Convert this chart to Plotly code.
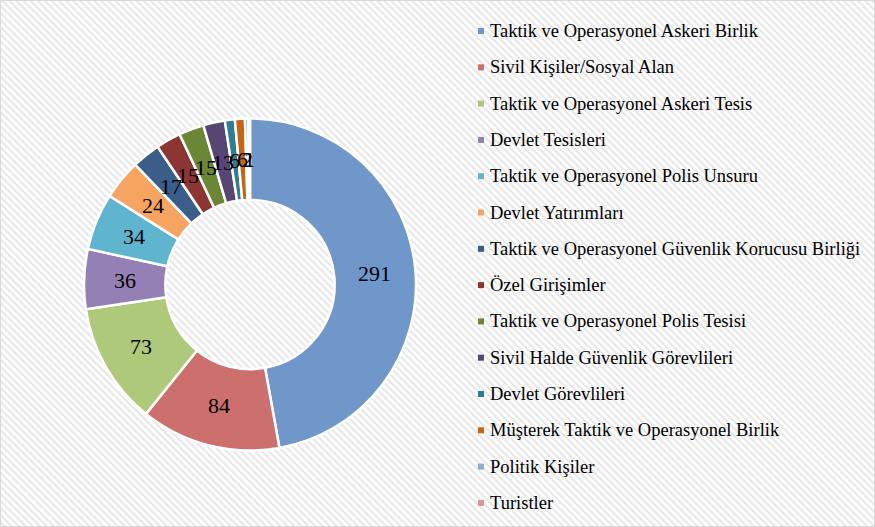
import base64
import math
import plotly.graph_objects as go

categories = [
    "Taktik ve Operasyonel Askeri Birlik",
    "Sivil Kişiler/Sosyal Alan",
    "Taktik ve Operasyonel Askeri Tesis",
    "Devlet Tesisleri",
    "Taktik ve Operasyonel Polis Unsuru",
    "Devlet Yatırımları",
    "Taktik ve Operasyonel Güvenlik Korucusu Birliği",
    "Özel Girişimler",
    "Taktik ve Operasyonel Polis Tesisi",
    "Sivil Halde Güvenlik Görevlileri",
    "Devlet Görevlileri",
    "Müşterek Taktik ve Operasyonel Birlik",
    "Politik Kişiler",
    "Turistler",
]
values = [291, 84, 73, 36, 34, 24, 17, 15, 15, 13, 6, 6, 2, 1]
colors = [
    "#6F97CA", "#CD6F6D", "#AEC97A", "#9580B5", "#5FB5CE", "#F8A461",
    "#3A5D8A", "#8C3532", "#6B8735", "#574573", "#2C7F94", "#C8650F",
    "#8EADD6", "#D99695",
]

FONT = "Liberation Serif"
W, H = 875, 527
HOLE = 0.51
DOM_X = [84 / W, 416 / W]
DOM_Y = [1 - 451 / H, 1 - 118 / H]

svg = f'''<svg xmlns="http://www.w3.org/2000/svg" width="{W}" height="{H}">
<defs><pattern id="p" width="5" height="5" patternUnits="userSpaceOnUse" patternTransform="rotate(-45)">
<rect width="5" height="5" fill="#ffffff"/><rect width="2.2" height="5" fill="#e8e8e8"/></pattern></defs>
<rect width="{W}" height="{H}" fill="url(#p)"/></svg>'''
bg = "data:image/svg+xml;base64," + base64.b64encode(svg.encode()).decode()

fig = go.Figure()
fig.add_trace(go.Pie(
    labels=categories,
    values=values,
    hole=HOLE,
    sort=False,
    direction="clockwise",
    rotation=0,
    marker=dict(colors=colors, line=dict(color="#FFFFFF", width=2.5)),
    textinfo="none",
    domain=dict(x=DOM_X, y=DOM_Y),
    showlegend=False,
))

annotations = []
# value labels at the middle of each ring segment (derived from the values)
cx_px = (DOM_X[0] + DOM_X[1]) / 2 * W
cy_px = (1 - (DOM_Y[0] + DOM_Y[1]) / 2) * H
r_out = min((DOM_X[1] - DOM_X[0]) * W, (DOM_Y[1] - DOM_Y[0]) * H) / 2
r_mid = r_out * (1 + HOLE) / 2
total = sum(values)
cum = 0
for v in values:
    theta = (cum + v / 2) / total * 2 * math.pi
    cum += v
    px = cx_px + r_mid * math.sin(theta)
    py = cy_px - r_mid * math.cos(theta)
    annotations.append(dict(text=str(v), xref="paper", yref="paper", x=px / W, y=1 - py / H,
                            xanchor="center", yanchor="middle", showarrow=False,
                            font=dict(family=FONT, size=22, color="#000000")))

shapes = [dict(type="rect", xref="paper", yref="paper", x0=0, y0=0, x1=1, y1=1,
               line=dict(color="#D9D9D9", width=2), layer="above")]
y0, step = 31, 36.3
for i, (cat, col) in enumerate(zip(categories, colors)):
    yc = y0 + i * step
    shapes.append(dict(type="rect", xref="paper", yref="paper",
                       x0=478 / W, x1=484 / W, y0=1 - (yc + 3) / H, y1=1 - (yc - 3) / H,
                       fillcolor=col, line=dict(width=0)))
    annotations.append(dict(text=cat, xref="paper", yref="paper", x=488 / W, y=1 - yc / H,
                            xanchor="left", yanchor="middle", showarrow=False,
                            font=dict(family=FONT, size=18.5, color="#000000")))

fig.update_layout(
    width=W, height=H,
    margin=dict(l=0, r=0, t=0, b=0),
    paper_bgcolor="#FFFFFF",
    plot_bgcolor="#FFFFFF",
    images=[dict(source=bg, xref="paper", yref="paper", x=0, y=1, sizex=1, sizey=1,
                 sizing="stretch", layer="below", xanchor="left", yanchor="top")],
    shapes=shapes,
    annotations=annotations,
)

fig.write_html("out.html", config={"displayModeBar": False},
               post_script="document.body.style.margin='0px';")
